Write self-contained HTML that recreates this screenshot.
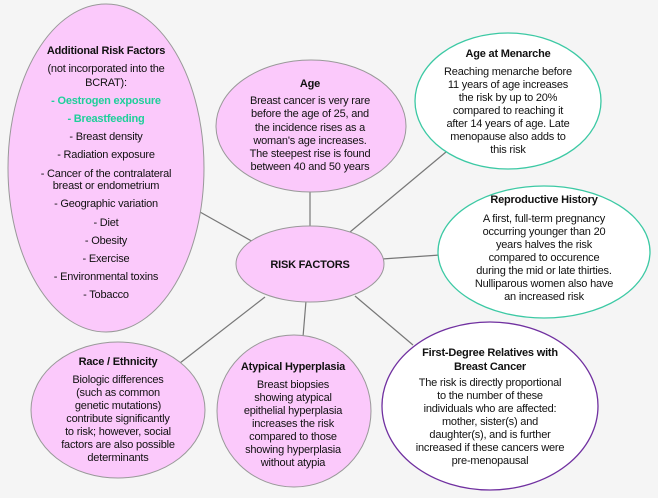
<!DOCTYPE html>
<html><head><meta charset="utf-8"><style>
html,body{margin:0;padding:0;background:#f5f5f5;}
svg{display:block;}
text{font-family:"Liberation Sans",sans-serif;font-size:11px;fill:#111;text-anchor:middle;letter-spacing:-0.2px;}
.b{font-weight:bold;}
.g{fill:#1fcf9a;font-weight:bold;}
</style></head><body>
<svg width="658" height="498" viewBox="0 0 658 498">
<rect width="658" height="498" fill="#f5f5f5"/>
<g stroke="#777" stroke-width="1.2">
<line x1="200" y1="212" x2="255" y2="243"/>
<line x1="310" y1="192" x2="310" y2="228"/>
<line x1="350" y1="232" x2="446" y2="152"/>
<line x1="382" y1="259" x2="440" y2="255"/>
<line x1="265" y1="297" x2="180" y2="363"/>
<line x1="306" y1="301" x2="303" y2="337"/>
<line x1="355" y1="296" x2="413" y2="345"/>
</g>
<g stroke="#999" stroke-width="1" fill="#fbc9fb">
<ellipse cx="106" cy="168" rx="98" ry="164"/>
<ellipse cx="311" cy="126" rx="95" ry="66"/>
<ellipse cx="310" cy="264" rx="74" ry="38"/>
<ellipse cx="118" cy="410" rx="87" ry="68"/>
<ellipse cx="294" cy="411" rx="77" ry="76"/>
</g>
<ellipse cx="508" cy="101" rx="93" ry="68" fill="#fff" stroke="#3cc9a4" stroke-width="1.3"/>
<ellipse cx="544" cy="252" rx="106" ry="66" fill="#fff" stroke="#3cc9a4" stroke-width="1.3"/>
<ellipse cx="490" cy="406" rx="108" ry="84" fill="#fff" stroke="#7030a0" stroke-width="1.3"/>

<text class="b" x="106" y="54">Additional Risk Factors</text>
<text x="106" y="72">(not incorporated into the</text>
<text x="106" y="86">BCRAT):</text>
<text class="g" x="106" y="104">- Oestrogen exposure</text>
<text class="g" x="106" y="122">- Breastfeeding</text>
<text x="106" y="140">- Breast density</text>
<text x="106" y="158">- Radiation exposure</text>
<text x="106" y="177">- Cancer of the contralateral</text>
<text x="106" y="189">breast or endometrium</text>
<text x="106" y="207">- Geographic variation</text>
<text x="106" y="226">- Diet</text>
<text x="106" y="244">- Obesity</text>
<text x="106" y="262">- Exercise</text>
<text x="106" y="280">- Environmental toxins</text>
<text x="106" y="298">- Tobacco</text>

<text class="b" x="310" y="87">Age</text>
<text x="310" y="104">Breast cancer is very rare</text>
<text x="310" y="117">before the age of 25, and</text>
<text x="310" y="131">the incidence rises as a</text>
<text x="310" y="144">woman's age increases.</text>
<text x="310" y="157">The steepest rise is found</text>
<text x="310" y="170">between 40 and 50 years</text>

<text class="b" x="508" y="57">Age at Menarche</text>
<text x="508" y="75">Reaching menarche before</text>
<text x="508" y="88">11 years of age increases</text>
<text x="508" y="101">the risk by up to 20%</text>
<text x="508" y="114">compared to reaching it</text>
<text x="508" y="127">after 14 years of age. Late</text>
<text x="508" y="140">menopause also adds to</text>
<text x="508" y="153">this risk</text>

<text class="b" x="544" y="203">Reproductive History</text>
<text x="544" y="222">A first, full-term pregnancy</text>
<text x="544" y="235">occurring younger than 20</text>
<text x="544" y="248">years halves the risk</text>
<text x="544" y="261">compared to occurence</text>
<text x="544" y="274">during the mid or late thirties.</text>
<text x="544" y="287">Nulliparous women also have</text>
<text x="544" y="300">an increased risk</text>

<text class="b" x="310" y="268">RISK FACTORS</text>

<text class="b" x="118" y="365">Race / Ethnicity</text>
<text x="118" y="383">Biologic differences</text>
<text x="118" y="396">(such as common</text>
<text x="118" y="409">genetic mutations)</text>
<text x="118" y="422">contribute significantly</text>
<text x="118" y="435">to risk; however, social</text>
<text x="118" y="448">factors are also possible</text>
<text x="118" y="461">determinants</text>

<text class="b" x="293" y="370">Atypical Hyperplasia</text>
<text x="293" y="388">Breast biopsies</text>
<text x="293" y="401">showing atypical</text>
<text x="293" y="414">epithelial hyperplasia</text>
<text x="293" y="427">increases the risk</text>
<text x="293" y="440">compared to those</text>
<text x="293" y="453">showing hyperplasia</text>
<text x="293" y="466">without atypia</text>

<text class="b" x="490" y="356">First-Degree Relatives with</text>
<text class="b" x="490" y="370">Breast Cancer</text>
<text x="490" y="386">The risk is directly proportional</text>
<text x="490" y="399">to the number of these</text>
<text x="490" y="412">individuals who are affected:</text>
<text x="490" y="425">mother, sister(s) and</text>
<text x="490" y="438">daughter(s), and is further</text>
<text x="490" y="451">increased if these cancers were</text>
<text x="490" y="464">pre-menopausal</text>
</svg>
</body></html>
